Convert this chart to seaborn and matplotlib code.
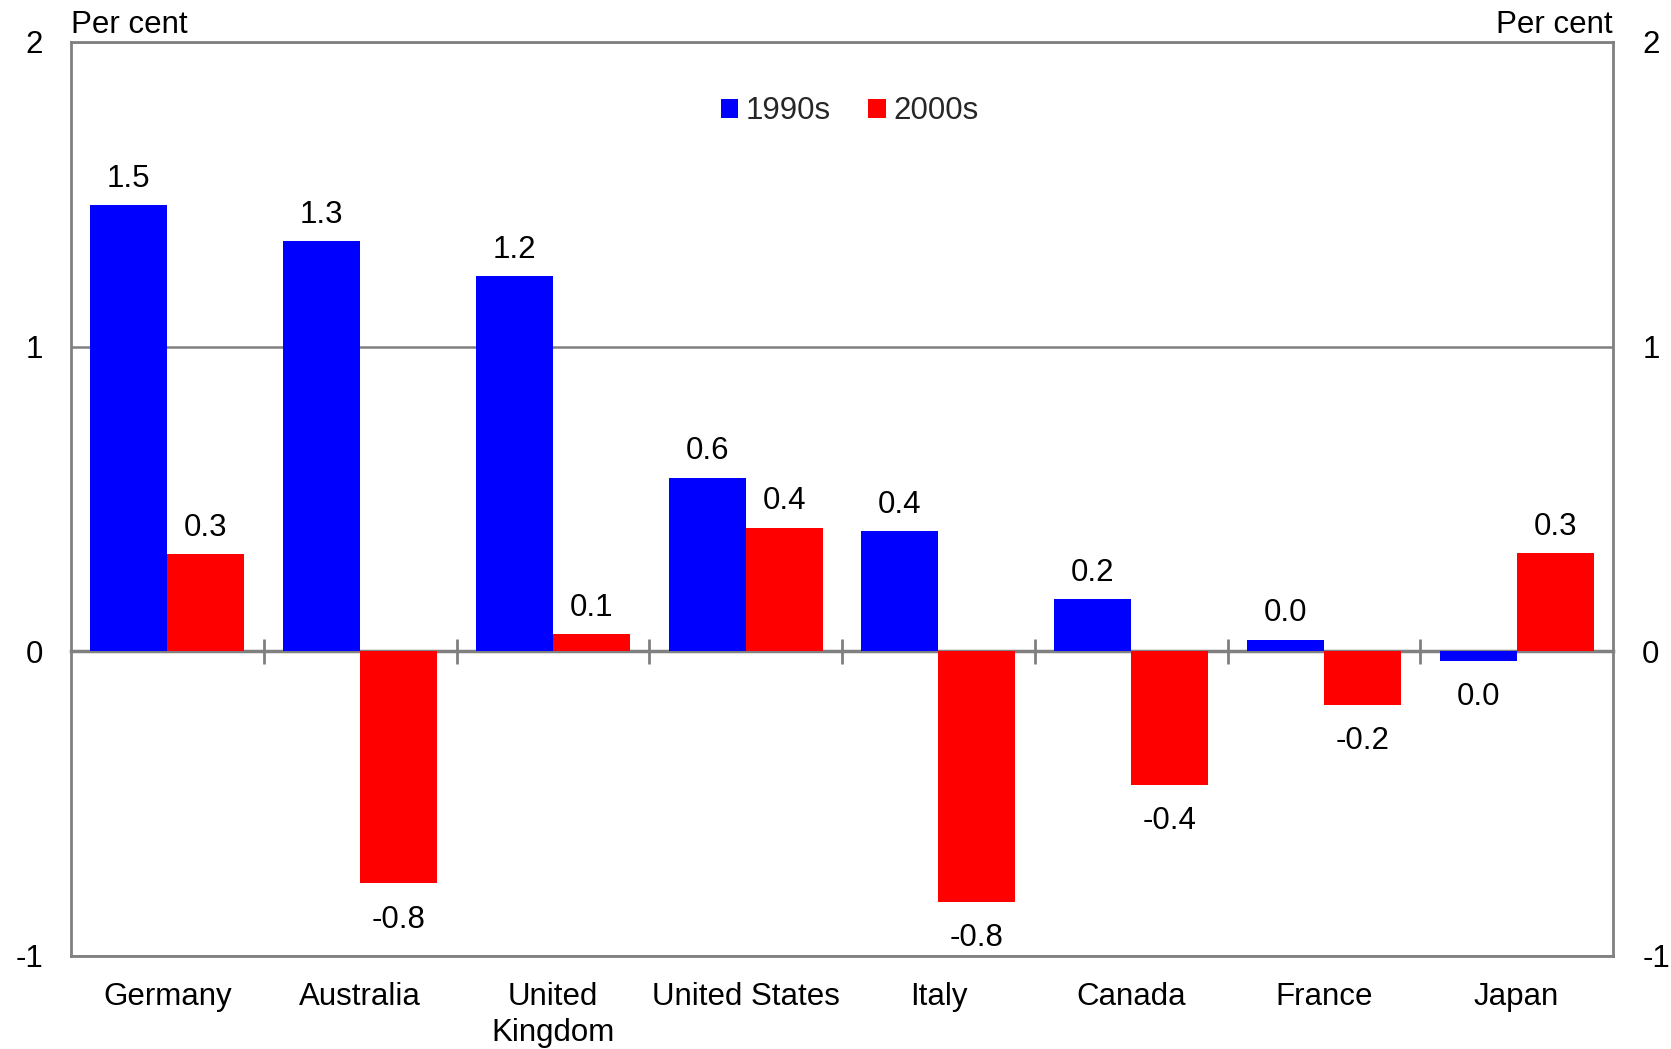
import matplotlib
matplotlib.use("Agg")
import matplotlib.pyplot as plt
import seaborn as sns
import pandas as pd

countries = ["Germany", "Australia", "United\nKingdom", "United States",
             "Italy", "Canada", "France", "Japan"]
decades = ["1990s", "2000s"]
values_1990s = [1.465, 1.346, 1.231, 0.570, 0.395, 0.171, 0.038, -0.031]
values_2000s = [0.318, -0.762, 0.056, 0.406, -0.822, -0.44, -0.175, 0.322]
y_ticks = [-1, 0, 1, 2]

BLUE = "#0000FF"
RED = "#FF0000"
GRAY = "#808080"
FS = 22.5

sns.set_theme(style="white")
plt.rcParams["font.family"] = ["Liberation Sans", "DejaVu Sans"]

df = pd.DataFrame({
    "country": countries * 2,
    "decade": [decades[0]] * len(countries) + [decades[1]] * len(countries),
    "value": values_1990s + values_2000s,
})

fig = plt.figure(figsize=(16.71, 10.49), dpi=100)
ax = fig.add_axes([0.0425, 0.0887, 0.9228, 0.8713])

sns.barplot(data=df, x="country", y="value", hue="decade", order=countries,
            hue_order=decades, palette=[BLUE, RED], width=0.8, saturation=1,
            edgecolor="none", linewidth=0, ax=ax, errorbar=None)

ymin, ymax = -1, 2
ax.set_ylim(ymin, ymax)
ax.set_xlim(-0.5, len(countries) - 0.5)
ax.set_xlabel("")
ax.set_ylabel("")
ax.set_yticks(y_ticks)
ax.set_yticklabels([str(t) for t in y_ticks])
ax.tick_params(axis="y", length=0, pad=20, labelsize=FS, labelcolor="black")
ax.tick_params(axis="x", length=0, pad=19, labelsize=FS, labelcolor="black")
for lab in ax.get_xticklabels():
    lab.set_linespacing(1.25)

ax.yaxis.grid(True, color=GRAY, linewidth=1.8)
ax.set_axisbelow(True)
for sp in ax.spines.values():
    sp.set_visible(True)
    sp.set_color(GRAY)
    sp.set_linewidth(2)

# zero line with category boundary ticks
zero_frac = (0 - ymin) / (ymax - ymin)
sec = ax.secondary_xaxis(zero_frac)
sec.set_xticks([i + 0.5 for i in range(len(countries) - 1)])
sec.set_xticklabels([])
sec.tick_params(direction="inout", length=18, width=2, color=GRAY)
for sp in sec.spines.values():
    sp.set_color(GRAY)
    sp.set_linewidth(2.5)

# right axis
ax2 = ax.twinx()
ax2.set_ylim(ymin, ymax)
ax2.set_yticks(y_ticks)
ax2.set_yticklabels([str(t) for t in y_ticks])
ax2.tick_params(axis="y", length=0, pad=21, labelsize=FS, labelcolor="black")
for sp in ax2.spines.values():
    sp.set_visible(False)
ax2.grid(False)

# value labels
for cont in ax.containers:
    for bar in cont:
        h = bar.get_height()
        x = bar.get_x() + bar.get_width() / 2
        txt = f"{h:.1f}"
        if txt == "-0.0":
            txt = "0.0"
        off = 19 if h >= 0 else -26
        ax.annotate(txt, (x, h), xytext=(0, off), textcoords="offset points",
                    ha="center", va="center", fontsize=FS, color="black")

ax.text(0.0, 1.002, "Per cent", transform=ax.transAxes, ha="left", va="bottom",
        fontsize=FS, color="black")
ax.text(1.0, 1.002, "Per cent", transform=ax.transAxes, ha="right", va="bottom",
        fontsize=FS, color="black")

handles, labels = ax.get_legend_handles_labels()
ax.legend(handles, labels, loc="center", bbox_to_anchor=(0.505, 0.924), ncol=2,
          frameon=False, handlelength=0.55, handleheight=0.55,
          handletextpad=0.25, columnspacing=1.2, fontsize=FS, borderpad=0)

fig.savefig("out.png", dpi=100, facecolor="white")
